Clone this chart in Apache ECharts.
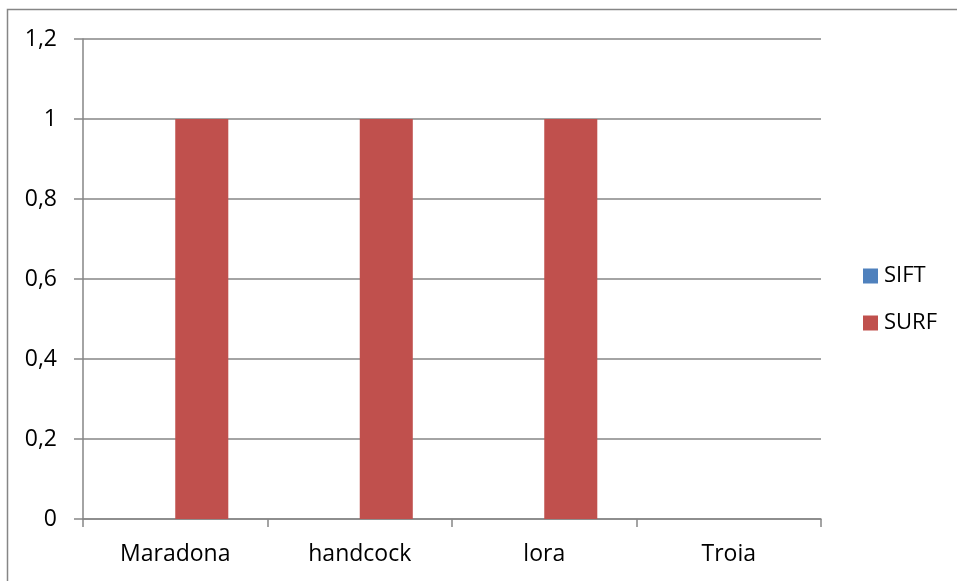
<!DOCTYPE html>
<html>
<head>
<meta charset="utf-8">
<script src="https://cdn.jsdelivr.net/npm/echarts@6/dist/echarts.min.js"></script>
<style>
  html, body { margin: 0; padding: 0; background: #fff; }
  #chart { width: 957px; height: 581px; }
</style>
</head>
<body>
<div id="chart"></div>
<script>
// Match counts per image for the two feature detectors
const categories = ['Maradona', 'handcock', 'lora', 'Troia'];
const siftValues = [0, 0, 0, 0];
const surfValues = [1, 1, 1, 0];
const yTickLabels = ['0', '0,2', '0,4', '0,6', '0,8', '1', '1,2'];

const axisGray = '#868686';
const fontFamily = '"Open Sans", "Liberation Sans", sans-serif';

const chart = echarts.init(document.getElementById('chart'));
chart.setOption({
  animation: false,
  backgroundColor: '#ffffff',
  graphic: [{
    type: 'rect',
    shape: { x: 7.5, y: 9.5, width: 1200, height: 1200 },
    style: { fill: 'none', stroke: axisGray, lineWidth: 1.5 },
    silent: true
  }],
  grid: { left: 83, right: 136, top: 39, bottom: 62 },
  legend: {
    orient: 'vertical',
    left: 863,
    top: 265,
    padding: 0,
    itemWidth: 15,
    itemHeight: 15,
    itemGap: 25,
    icon: 'rect',
    textStyle: { fontFamily, fontSize: 22, color: '#000', padding: [0, 0, 0, 1] },
    data: ['SIFT', 'SURF']
  },
  xAxis: {
    type: 'category',
    data: categories,
    axisLine: { lineStyle: { color: axisGray, width: 1.5 } },
    axisTick: { show: true, length: 8, lineStyle: { color: axisGray, width: 1.5 } },
    axisLabel: { fontFamily, fontSize: 23, color: '#000', margin: 24 }
  },
  yAxis: {
    type: 'value',
    min: 0,
    max: 1.2,
    interval: 0.2,
    axisLine: { show: true, lineStyle: { color: axisGray, width: 1.5 } },
    axisTick: { show: true, length: 9, lineStyle: { color: axisGray, width: 1.5 } },
    splitLine: { lineStyle: { color: axisGray, width: 1.5 } },
    axisLabel: {
      fontFamily, fontSize: 23, color: '#000', margin: 26,
      formatter: (v) => yTickLabels[Math.round(v / 0.2)]
    }
  },
  series: [
    {
      name: 'SIFT', type: 'bar', data: siftValues,
      itemStyle: { color: '#4F81BD' },
      barGap: '0%', barCategoryGap: '42.5%'
    },
    {
      name: 'SURF', type: 'bar', data: surfValues,
      itemStyle: { color: '#C0504D' },
      barGap: '0%', barCategoryGap: '42.5%'
    }
  ]
});
</script>
</body>
</html>
